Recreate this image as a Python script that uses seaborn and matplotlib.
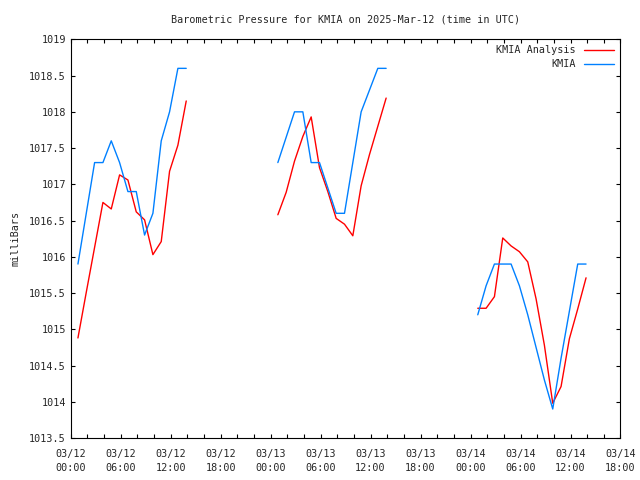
import numpy as np
import pandas as pd
import matplotlib
matplotlib.use("Agg")
import matplotlib.pyplot as plt
import matplotlib.dates as mdates
from matplotlib.ticker import MultipleLocator, FuncFormatter
import seaborn as sns

# observation start times (UTC) of the three runs, hourly after that
run_starts = ["2025-03-12 00:52", "2025-03-13 00:52", "2025-03-14 00:52"]

# KMIA observed pressure (mb)
kmia_obs = [
    [1015.90, 1016.60, 1017.30, 1017.30, 1017.60, 1017.30, 1016.90, 1016.90,
     1016.30, 1016.60, 1017.60, 1018.00, 1018.60, 1018.60],
    [1017.30, 1017.65, 1018.00, 1018.00, 1017.30, 1017.30, 1016.95, 1016.60,
     1016.60, 1017.30, 1018.00, 1018.30, 1018.60, 1018.60],
    [1015.20, 1015.60, 1015.90, 1015.90, 1015.90, 1015.60, 1015.20, 1014.75,
     1014.30, 1013.90, 1014.60, 1015.25, 1015.90, 1015.90],
]

# KMIA analysis pressure (mb)
kmia_analysis = [
    [1014.88, 1015.51, 1016.13, 1016.75, 1016.66, 1017.13, 1017.06, 1016.62,
     1016.51, 1016.03, 1016.21, 1017.18, 1017.54, 1018.15],
    [1016.58, 1016.89, 1017.32, 1017.66, 1017.93, 1017.23, 1016.90, 1016.53,
     1016.45, 1016.29, 1016.98, 1017.41, 1017.80, 1018.19],
    [1015.29, 1015.29, 1015.45, 1016.26, 1016.15, 1016.07, 1015.93, 1015.42,
     1014.78, 1013.98, 1014.21, 1014.87, 1015.28, 1015.71],
]

series_names = ["KMIA Analysis", "KMIA"]
series_colors = {"KMIA Analysis": "#ff0000", "KMIA": "#0080ff"}

rows = []
for seg, start in enumerate(run_starts):
    times = pd.date_range(start, periods=len(kmia_obs[seg]), freq="h")
    for name, vals in zip(series_names, [kmia_analysis[seg], kmia_obs[seg]]):
        for t, v in zip(times, vals):
            rows.append({"time": t, "pressure": v, "series": name, "segment": seg})
df = pd.DataFrame(rows)

sns.set_style("ticks")
plt.rcParams["font.family"] = ["DejaVu Sans Mono"]
plt.rcParams["xtick.direction"] = "in"
plt.rcParams["ytick.direction"] = "in"

fs = 7.3

fig = plt.figure(figsize=(6.4, 4.8), dpi=100)
ax = fig.add_axes([0.1105, 0.0875, 0.859, 0.8305])

sns.lineplot(data=df, x="time", y="pressure", hue="series", units="segment",
             estimator=None, palette=series_colors, hue_order=series_names,
             linewidth=1, ax=ax)

ax.set_xlim(pd.Timestamp("2025-03-12 00:00"), pd.Timestamp("2025-03-14 18:00"))
ax.set_ylim(1013.5, 1019)

ax.xaxis.set_major_locator(mdates.HourLocator(byhour=[0, 6, 12, 18]))
ax.xaxis.set_minor_locator(mdates.HourLocator(interval=2))
ax.xaxis.set_major_formatter(mdates.DateFormatter("%m/%d\n%H:%M"))
ax.yaxis.set_major_locator(MultipleLocator(0.5))
ax.yaxis.set_major_formatter(FuncFormatter(lambda v, p: "%g" % v))

ax.tick_params(which="both", top=True, right=True, labelsize=fs, color="black",
               length=3, width=0.8)
ax.tick_params(axis="x", which="major", pad=8)
for lbl in ax.get_xticklabels():
    lbl.set_linespacing(1.5)
for s in ax.spines.values():
    s.set_color("black")
    s.set_linewidth(0.8)

ax.set_xlabel("")
ax.set_ylabel("milliBars", fontsize=fs, labelpad=6)
ax.set_title("Barometric Pressure for KMIA on 2025-Mar-12 (time in UTC)", fontsize=fs, pad=12)

handles, labels = ax.get_legend_handles_labels()
ax.legend(handles, labels, loc="upper right", frameon=False, markerfirst=False,
          fontsize=fs, handlelength=3, borderaxespad=0.2, labelspacing=0.4)

fig.savefig("out.png", dpi=100)
